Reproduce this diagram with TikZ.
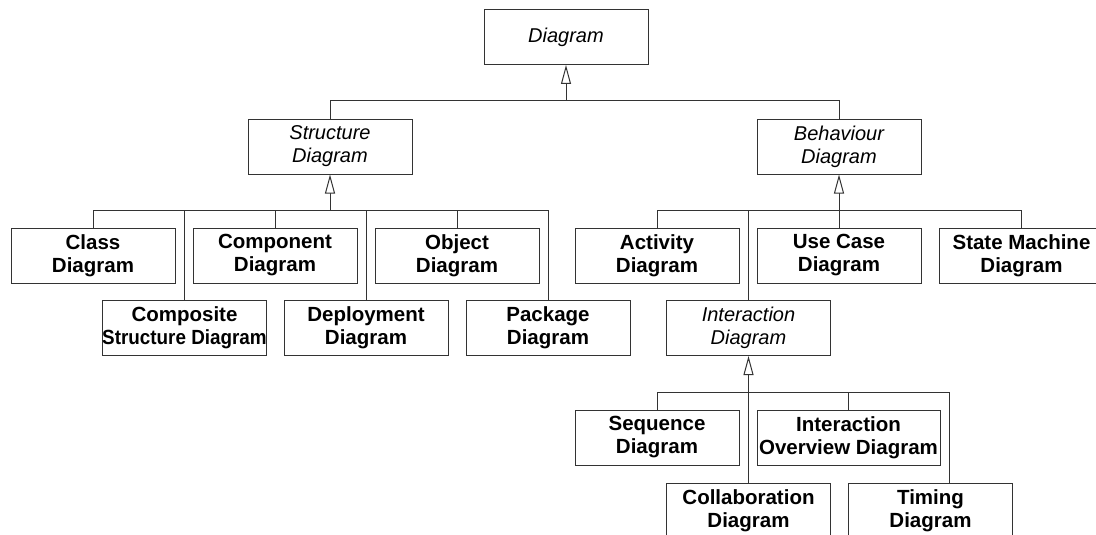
\documentclass[tikz,border=0pt]{standalone}
\usepackage{fontspec}
\setmainfont{Liberation Sans}
\usetikzlibrary{arrows.meta}
\begin{document}
\begin{tikzpicture}[x=1pt,y=-1pt,
  box/.style={draw=black!80, line width=1pt, minimum width=164pt, minimum height=55pt,
    inner sep=0pt, align=center},
  abstractbox/.style={box, font=\fontsize{20}{23}\selectfont\itshape},
  concretebox/.style={box, font=\fontsize{20.5}{23}\selectfont\bfseries},
  link/.style={draw=black!80, line width=1pt},
  gen/.style={link, -{Triangle[open, length=19pt, width=10pt, fill=white]}}
]
\useasboundingbox (0,0) rectangle (1096,535);
\clip (0,0) rectangle (1096,535);

% root and the two abstract branches
\node[abstractbox] (diagram) at (566,37) {Diagram};
\node[abstractbox] (struct) at (330,146.5) {Structure\\Diagram};
\node[abstractbox] (behav) at (839,146.5) {Behaviour\\Diagram};

% structure diagrams
\node[concretebox] (class) at (93,255.5) {Class\\Diagram};
\node[concretebox] (component) at (275,255.5) {Component\\Diagram};
\node[concretebox] (object) at (457,255.5) {Object\\Diagram};
\node[concretebox] (composite) at (184.5,328) {Composite\\\scalebox{0.92}[1]{Structure Diagram}};
\node[concretebox] (deployment) at (366,328) {Deployment\\Diagram};
\node[concretebox] (package) at (548,328) {Package\\Diagram};

% behaviour diagrams
\node[concretebox] (activity) at (657,255.5) {Activity\\Diagram};
\node[concretebox] (usecase) at (839,255.5) {Use Case\\Diagram};
\node[concretebox] (statemachine) at (1021.5,255.5) {State Machine\\Diagram};
\node[abstractbox] (interaction) at (748.5,328) {Interaction\\Diagram};

% interaction diagrams
\node[concretebox] (sequence) at (657,437.5) {Sequence\\Diagram};
\node[concretebox, minimum width=183pt] (overview) at (848.5,437.5) {Interaction\\Overview Diagram};
\node[concretebox] (collab) at (748.5,510.5) {Collaboration\\Diagram};
\node[concretebox] (timing) at (930.5,510.5) {Timing\\Diagram};

% bus junctions under each parent
\coordinate (tbus) at (566,101);
\coordinate (sbus) at (330,210);
\coordinate (bbus) at (839,210);
\coordinate (ibus) at (748.5,392);

% Diagram generalisation
\draw[link] (struct.north) |- (tbus);
\draw[link] (behav.north) |- (tbus);
\draw[gen] (tbus) -- (diagram.south);

% Structure Diagram generalisation
\foreach \c in {class,component,object,composite,deployment,package}
  \draw[link] (\c.north) |- (sbus);
\draw[gen] (sbus) -- (struct.south);

% Behaviour Diagram generalisation
\foreach \c in {activity,usecase,statemachine}
  \draw[link] (\c.north) |- (bbus);
\draw[link] (interaction.north) |- (bbus);
\draw[gen] (bbus) -- (behav.south);

% Interaction Diagram generalisation
\draw[link] (sequence.north) |- (ibus);
\draw[link] (overview.north) |- (ibus);
\draw[link] (collab.north) -- (ibus);
\draw[link] ([xshift=18.5pt]timing.north) |- (ibus);
\draw[gen] (ibus) -- (interaction.south);
\end{tikzpicture}
\end{document}
